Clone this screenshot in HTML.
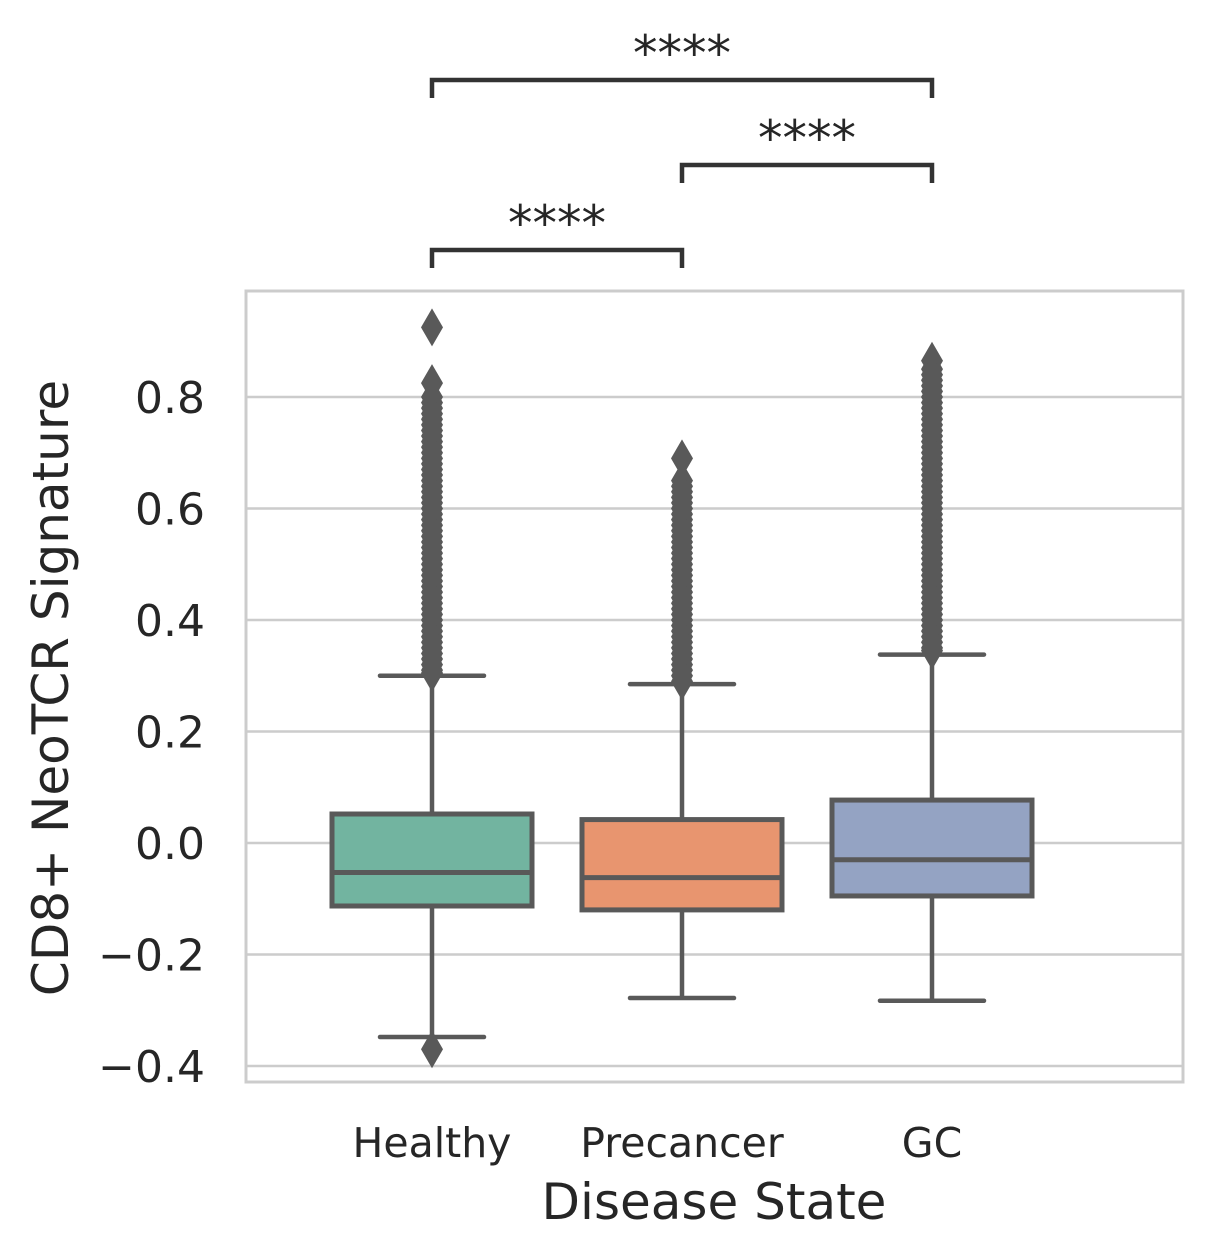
<!DOCTYPE html>
<html><head><meta charset="utf-8"><style>
body{margin:0;background:#fff;}
svg{display:block;font-family:"DejaVu Sans","Liberation Sans",sans-serif;}
</style></head><body>
<svg id="chart" width="1211" height="1259" viewBox="0 0 1211 1259">
<g id="grid"></g>
<g id="boxes"></g>
<rect x="246" y="291" width="937" height="791" fill="none" stroke="#cccccc" stroke-width="3"/>
<g id="yticks"></g>
<g id="xticks"></g>
<g id="brackets"></g>
<text x="714" y="1219" font-size="50" fill="#262626" text-anchor="middle">Disease State</text>
<text transform="translate(68,688) rotate(-90)" font-size="50" fill="#262626" text-anchor="middle">CD8+ NeoTCR Signature</text>
</svg>
<script>
const categories = ["Healthy","Precancer","GC"];
const fills = ["#72b4a0","#e8956f","#94a3c3"];
const q1 = [-0.113,-0.120,-0.095];
const medians = [-0.053,-0.062,-0.030];
const q3 = [0.052,0.042,0.077];
const whiskLo = [-0.348,-0.278,-0.283];
const whiskHi = [0.300,0.285,0.338];
const outliersHealthy = [0.925,0.825,0.80,0.79,0.78,0.77,0.76,0.75,0.74,0.73,0.72,0.71,0.70,0.69,0.68,0.67,0.66,0.65,0.64,0.63,0.62,0.61,0.60,0.59,0.58,0.57,0.56,0.55,0.54,0.53,0.52,0.51,0.50,0.49,0.48,0.47,0.46,0.45,0.44,0.43,0.42,0.41,0.40,0.39,0.38,0.37,0.36,0.35,0.34,0.33,0.32,0.31,0.305,-0.37];
const outliersPrecancer = [0.69,0.65,0.64,0.63,0.62,0.61,0.60,0.59,0.58,0.57,0.56,0.55,0.54,0.53,0.52,0.51,0.50,0.49,0.48,0.47,0.46,0.45,0.44,0.43,0.42,0.41,0.40,0.39,0.38,0.37,0.36,0.35,0.34,0.33,0.32,0.31,0.30,0.29];
const outliersGC = [0.865,0.85,0.84,0.83,0.82,0.81,0.80,0.79,0.78,0.77,0.76,0.75,0.74,0.73,0.72,0.71,0.70,0.69,0.68,0.67,0.66,0.65,0.64,0.63,0.62,0.61,0.60,0.59,0.58,0.57,0.56,0.55,0.54,0.53,0.52,0.51,0.50,0.49,0.48,0.47,0.46,0.45,0.44,0.43,0.42,0.41,0.40,0.39,0.38,0.37,0.36,0.35,0.345];
const yTicks = [-0.4,-0.2,0.0,0.2,0.4,0.6,0.8];
const yTickLabels = ["\u22120.4","\u22120.2","0.0","0.2","0.4","0.6","0.8"];
const bracketPairs = [[0,1],[1,2],[0,2]];
const bracketLabels = ["****","****","****"];

const NS="http://www.w3.org/2000/svg";
function y(v){return 843 - v*557.5;}
function x(i){return 432 + 250*i;}
function mk(tag,attrs,parent){const e=document.createElementNS(NS,tag);for(const k in attrs)e.setAttribute(k,attrs[k]);parent.appendChild(e);return e;}
const grid=document.getElementById('grid'),boxes=document.getElementById('boxes'),yt=document.getElementById('yticks'),xt=document.getElementById('xticks'),br=document.getElementById('brackets');
yTicks.forEach((v,i)=>{
  const l=mk('line',{x1:246,x2:1183,y1:y(v),y2:y(v),stroke:'#cccccc','stroke-width':2.5},grid);
  
  
  const t=mk('text',{x:205,y:y(v)+16,'font-size':44,fill:'#262626','text-anchor':'end'},yt);
  t.textContent=yTickLabels[i];
  
  
});
const outs=[outliersHealthy,outliersPrecancer,outliersGC];
const ec='#595959', hw=100, cw=52;
categories.forEach((c,i)=>{
  const cx=x(i);
  const g=mk('g',{},boxes);
  
  
  mk('line',{x1:cx,x2:cx,y1:y(q1[i]),y2:y(whiskLo[i]),stroke:ec,'stroke-width':4.5},g);
  mk('line',{x1:cx,x2:cx,y1:y(q3[i]),y2:y(whiskHi[i]),stroke:ec,'stroke-width':4.5},g);
  mk('line',{x1:cx-cw,x2:cx+cw,y1:y(whiskLo[i]),y2:y(whiskLo[i]),stroke:ec,'stroke-width':4.5,'stroke-linecap':'round'},g);
  mk('line',{x1:cx-cw,x2:cx+cw,y1:y(whiskHi[i]),y2:y(whiskHi[i]),stroke:ec,'stroke-width':4.5,'stroke-linecap':'round'},g);
  outs[i].forEach(v=>{
    const yy=y(v);
    const d=mk('path',{d:`M${cx} ${yy-19}L${cx+11} ${yy}L${cx} ${yy+19}L${cx-11} ${yy}Z`,fill:ec},g);
    
    
  });
  const r=mk('rect',{x:cx-hw,y:y(q3[i]),width:2*hw,height:y(q1[i])-y(q3[i]),fill:fills[i],stroke:ec,'stroke-width':5},g);
  
  
  const m=mk('line',{x1:cx-hw,x2:cx+hw,y1:y(medians[i]),y2:y(medians[i]),stroke:ec,'stroke-width':5},g);
  
  
  const t=mk('text',{x:cx,y:1157,'font-size':41,fill:'#262626','text-anchor':'middle'},xt);
  t.textContent=c;
  
  
});
const levels=[250,165,80];
bracketPairs.forEach((p,i)=>{
  const yy=levels[i],x1=x(p[0]),x2=x(p[1]);
  const pl=mk('path',{d:`M${x1} ${yy+18}V${yy}H${x2}V${yy+18}`,fill:'none',stroke:'#333','stroke-width':4.5},br);
  
  
  const t=mk('text',{x:(x1+x2)/2,y:yy-10,'font-size':49,fill:'#262626','text-anchor':'middle'},br);
  t.textContent=bracketLabels[i];
  
  
});
</script>
</body></html>
